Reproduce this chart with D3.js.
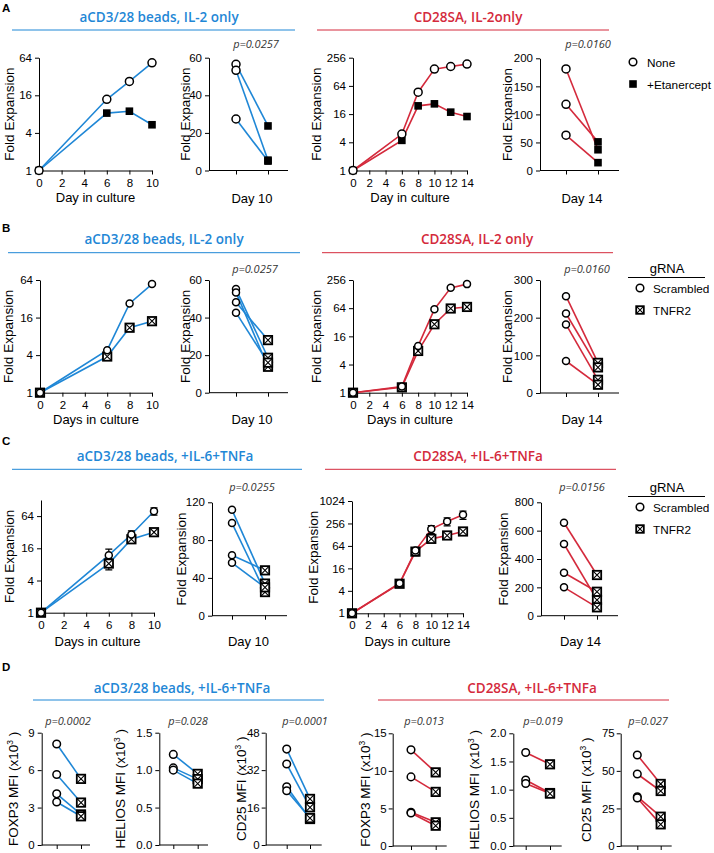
<!DOCTYPE html>
<html>
<head>
<meta charset="utf-8">
<script src="https://cdn.jsdelivr.net/npm/d3@7"></script>
<style>
body { margin: 0; background: #fff; }
text { font-family: "Liberation Sans", Arial, sans-serif; fill: #000; }
.axis text { font-size: 11.5px; font-family: "Liberation Sans", Arial, sans-serif; }
.ttl { font-family: "Open Sans", sans-serif; font-weight: 600; font-size: 13.5px; }
.pv { font-family: "Open Sans", sans-serif; font-style: italic; font-size: 11px; fill: #333; }
.lab { font-size: 13.5px; }
.xl { font-size: 13px; }
.let { font-size: 11.5px; font-weight: bold; }
</style>
</head>
<body>
<svg id="fig" width="714" height="853"></svg>
<script>
// days and ticks
var daysShort = [0, 6, 8, 10];
var daysLong = [0, 6, 8, 10, 12, 14];
var dayTicks10 = [0, 2, 4, 6, 8, 10];
var dayTicks14 = [0, 2, 4, 6, 8, 10, 12, 14];

// Panel A
var aBeadsNone = [1, 13.8, 26.7, 53];
var aBeadsEtan = [1, 8.3, 8.9, 5.4];
var aBeadsD10None = [56.5, 53.3, 27.4];
var aBeadsD10Etan = [23.7, 5.5, 5.0];
var aSaNone = [1, 6, 47, 146, 166, 187];
var aSaEtan = [1, 4.4, 24, 26.5, 17.6, 14.2];
var aSaD14None = [181, 118, 63];
var aSaD14Etan = [37, 51, 14];

// Panel B
var bBeadsScr = [1, 4.8, 27, 55];
var bBeadsTnf = [1, 3.8, 11, 14];
var bBeadsD10Scr = [55.2, 53.4, 48.1, 42.6];
var bBeadsD10Tnf = [18.6, 13.8, 28, 16];
var bSaScr = [1, 1.35, 10, 61, 174, 209];
var bSaTnf = [1, 1.3, 7.8, 29, 63, 68];
var bSaD14Scr = [257, 211, 182, 85];
var bSaD14Tnf = [80, 68, 35, 22];

// Panel C
var cBeadsScr = [1, 11.9, 29, 79];
var cBeadsScrErr = [0, 3.5, 5, 12];
var cBeadsTnf = [1, 8.3, 23.6, 32];
var cBeadsTnfErr = [0, 2, 3, 4];
var cBeadsD10Scr = [112, 98, 64, 56];
var cBeadsD10Tnf = [34, 25, 48, 30];
var cSaScr = [1, 6.4, 48, 181, 290, 439];
var cSaScrErr = [0, 1, 8, 45, 70, 110];
var cSaTnf = [1, 6.2, 45, 99, 122, 156];
var cSaTnfErr = [0, 1, 10, 20, 20, 30];
var cSaD14Scr = [656, 506, 303, 200];
var cSaD14Tnf = [287, 111, 169, 59];

// Panel D
var dBeadsFoxp3Scr = [8.1, 5.65, 4.1, 3.45];
var dBeadsFoxp3Tnf = [5.3, 3.4, 2.45, 2.3];
var dBeadsHeliosScr = [1.21, 1.03, 1.0];
var dBeadsHeliosTnf = [0.95, 0.88, 0.82];
var dBeadsCd25Scr = [41, 34.6, 24.9, 23.2];
var dBeadsCd25Tnf = [19.7, 16.1, 11.1, 11.5];
var dSaFoxp3Scr = [12.8, 9.2, 4.5, 4.4];
var dSaFoxp3Tnf = [9.8, 7.2, 3.15, 2.7];
var dSaHeliosScr = [1.66, 1.17, 1.11];
var dSaHeliosTnf = [1.45, 0.94, 0.93];
var dSaCd25Scr = [60.6, 47.9, 32.8, 32];
var dSaCd25Tnf = [41.3, 36.6, 19.5, 14.4];

var blue = "#1f87d6", red = "#d42a3c";
var svg = d3.select("#fig");

function drawMarker(g, kind, cx, cy, sz) {
  if (kind == "o") {
    g.append("circle").attr("cx", cx).attr("cy", cy).attr("r", sz)
      .attr("fill", "#fff").attr("stroke", "#000").attr("stroke-width", 1.5);
  } else if (kind == "s") {
    g.append("rect").attr("x", cx - sz).attr("y", cy - sz)
      .attr("width", sz * 2).attr("height", sz * 2).attr("fill", "#000");
  } else {
    var h = sz;
    g.append("rect").attr("x", cx - h).attr("y", cy - h)
      .attr("width", h * 2).attr("height", h * 2)
      .attr("fill", "#fff").attr("stroke", "#000").attr("stroke-width", 1.8);
    g.append("path")
      .attr("d", "M" + (cx - h) + "," + (cy - h) + "L" + (cx + h) + "," + (cy + h) +
        "M" + (cx + h) + "," + (cy - h) + "L" + (cx - h) + "," + (cy + h))
      .attr("stroke", "#000").attr("stroke-width", 1.1);
  }
}

function yLabel(lx, cy, txt, sup) {
  var t = svg.append("text").attr("class", "lab")
    .attr("transform", "translate(" + lx + "," + cy + ") rotate(-90)")
    .attr("text-anchor", "middle");
  if (sup) {
    t.append("tspan").text(txt);
    t.append("tspan").attr("dy", -5).style("font-size", "8.5px").text("3");
    t.append("tspan").attr("dy", 5).text(" )");
  } else {
    t.text(txt);
  }
}

function timeChart(o) {
  var x = d3.scaleLinear().domain([0, o.xMax]).range([o.x0, o.x1]);
  var y = d3.scaleLog().base(2).domain([1, o.yMax]).range([o.yBot, o.yTop]);
  var g = svg.append("g");
  g.append("g").attr("class", "axis")
    .attr("transform", "translate(0," + o.yBot + ")")
    .call(d3.axisBottom(x).tickValues(o.xTicks).tickSize(4).tickSizeOuter(0).tickPadding(4));
  g.append("g").attr("class", "axis")
    .attr("transform", "translate(" + o.x0 + ",0)")
    .call(d3.axisLeft(y).tickValues(o.yTicks).tickSize(4).tickSizeOuter(0).tickFormat(d3.format("d")));
  var line = d3.line().x(function (d, i) { return x(o.days[i]); }).y(function (d) { return y(d); });
  o.series.forEach(function (s) {
    g.append("path").datum(s.vals).attr("d", line)
      .attr("fill", "none").attr("stroke", o.color).attr("stroke-width", 1.6);
  });
  o.series.forEach(function (s) {
    if (!s.err) return;
    s.vals.forEach(function (v, i) {
      if (!s.err[i]) return;
      var cx = x(o.days[i]), hi = y(v + s.err[i]), lo = y(Math.max(v - s.err[i], 1));
      g.append("path")
        .attr("d", "M" + cx + "," + lo + "V" + hi + "M" + (cx - 3.5) + "," + hi + "H" + (cx + 3.5) +
          "M" + (cx - 3.5) + "," + lo + "H" + (cx + 3.5))
        .attr("stroke", "#000").attr("stroke-width", 1.2).attr("fill", "none");
    });
  });
  o.series.slice().reverse().forEach(function (s) {
    s.vals.forEach(function (v, i) { drawMarker(g, s.kind, x(o.days[i]), y(v), s.sz); });
  });
  yLabel(o.labX, (o.yTop + o.yBot) / 2, "Fold Expansion");
  svg.append("text").attr("class", "xl").attr("x", (o.x0 + o.x1) / 2).attr("y", o.xLabY)
    .attr("text-anchor", "middle").text(o.xLab);
}

function pairChart(o) {
  var y = d3.scaleLinear().domain([0, o.yMax]).range([o.yBot, o.yTop]);
  var x = d3.scalePoint().domain(["pre", "post"]).range([o.t0, o.t1]);
  var g = svg.append("g");
  var xa = g.append("g").attr("class", "axis")
    .attr("transform", "translate(0," + o.yBot + ")")
    .call(d3.axisBottom(x).tickSize(4).tickFormat(""));
  xa.select(".domain").remove();
  xa.append("line").attr("x1", o.x0).attr("x2", o.x1).attr("stroke", "#000");
  g.append("g").attr("class", "axis")
    .attr("transform", "translate(" + o.x0 + ",0)")
    .call(d3.axisLeft(y).tickValues(o.yTicks).tickSize(4).tickSizeOuter(0)
      .tickPadding(o.pad || 3).tickFormat(d3.format(o.fmt || "d")));
  o.before.forEach(function (b, i) {
    g.append("line").attr("x1", x("pre")).attr("y1", y(b))
      .attr("x2", x("post")).attr("y2", y(o.after[i]))
      .attr("stroke", o.color).attr("stroke-width", 1.6);
  });
  o.after.forEach(function (a) { drawMarker(g, o.kA, x("post"), y(a), o.szA); });
  o.before.forEach(function (b) { drawMarker(g, "o", x("pre"), y(b), o.szB); });
  svg.append("text").attr("class", "pv").attr("x", o.pX).attr("y", o.pY)
    .attr("text-anchor", "middle").text(o.p);
  if (o.ylab) yLabel(o.labX, (o.yTop + o.yBot) / 2, "Fold Expansion");
  if (o.dlab) yLabel(o.labX, (o.yTop + o.yBot) / 2, o.dlab, true);
  if (o.xLab) svg.append("text").attr("class", "xl").attr("x", (o.t0 + o.t1) / 2).attr("y", o.xLabY)
    .attr("text-anchor", "middle").text(o.xLab);
}

function header(letter, letY, items) {
  svg.append("text").attr("class", "let").attr("x", 2).attr("y", letY).text(letter);
  items.forEach(function (it) {
    svg.append("text").attr("class", "ttl").attr("x", it.cx).attr("y", it.ty)
      .attr("text-anchor", "middle").style("fill", it.color).text(it.text);
    svg.append("line").attr("x1", it.l0).attr("x2", it.l1).attr("y1", it.ly).attr("y2", it.ly)
      .attr("stroke", it.color).attr("stroke-width", 1);
  });
}

function legend(kind, top, names, withTitle) {
  var g = svg.append("g");
  if (withTitle) {
    g.append("text").attr("x", 667).attr("y", top).attr("text-anchor", "middle")
      .style("font-size", "13px").text("gRNA");
    g.append("line").attr("x1", 628).attr("x2", 705).attr("y1", top + 4.5).attr("y2", top + 4.5)
      .attr("stroke", "#000");
    top += 15;
  }
  names.forEach(function (n, i) {
    var cy = top + i * 22;
    drawMarker(g, i == 0 ? "o" : kind, withTitle ? 640 : 633, cy, 3.8);
    g.append("text").attr("x", withTitle ? 653 : 647).attr("y", cy + 4.5)
      .style("font-size", "11.8px").text(n);
  });
}

// ---------- A ----------
header("A", 12, [
  { text: "aCD3/28 beads, IL-2 only", cx: 159, ty: 22, l0: 12, l1: 295, ly: 30, color: blue },
  { text: "CD28SA, IL-2only", cx: 468, ty: 22, l0: 317, l1: 609, ly: 30, color: red }
]);
timeChart({ x0: 39, x1: 152, xMax: 10, xTicks: dayTicks10, yTop: 57.7, yBot: 170.5, yMax: 64,
  yTicks: [1, 4, 16, 64], days: daysShort, color: blue, labX: 14, xLab: "Day in culture", xLabY: 202,
  series: [{ vals: aBeadsNone, kind: "o", sz: 4 }, { vals: aBeadsEtan, kind: "s", sz: 3.8 }] });
pairChart({ x0: 209, x1: 288, t0: 236, t1: 268, yTop: 57.7, yBot: 170.5, yMax: 60, yTicks: [0, 20, 40, 60],
  before: aBeadsD10None, after: aBeadsD10Etan, kA: "s", szA: 3.8, szB: 4, color: blue,
  p: "p=0.0257", pX: 256, pY: 48, ylab: true, labX: 190, xLab: "Day 10", xLabY: 203 });
timeChart({ x0: 353, x1: 467, xMax: 14, xTicks: dayTicks14, yTop: 57.7, yBot: 170.5, yMax: 256,
  yTicks: [1, 4, 16, 64, 256], days: daysLong, color: red, labX: 321, xLab: "Day in culture", xLabY: 202,
  series: [{ vals: aSaNone, kind: "o", sz: 4 }, { vals: aSaEtan, kind: "s", sz: 3.8 }] });
pairChart({ x0: 540, x1: 619, t0: 566, t1: 598, yTop: 58.3, yBot: 170.5, yMax: 200, yTicks: [0, 50, 100, 150, 200],
  before: aSaD14None, after: aSaD14Etan, kA: "s", szA: 3.8, szB: 4, color: red,
  p: "p=0.0160", pX: 588, pY: 48, ylab: true, labX: 512, xLab: "Day 14", xLabY: 203 });
legend("s", 62, ["None", "+Etanercept"], false);

// ---------- B ----------
header("B", 232, [
  { text: "aCD3/28 beads, IL-2 only", cx: 164, ty: 244, l0: 8, l1: 300, ly: 252.7, color: blue },
  { text: "CD28SA, IL-2 only", cx: 477, ty: 244, l0: 322, l1: 613, ly: 252.7, color: red }
]);
timeChart({ x0: 40, x1: 152, xMax: 10, xTicks: dayTicks10, yTop: 280, yBot: 392.7, yMax: 64,
  yTicks: [1, 4, 16, 64], days: daysShort, color: blue, labX: 13, xLab: "Days in culture", xLabY: 424,
  series: [{ vals: bBeadsScr, kind: "o", sz: 3.5 }, { vals: bBeadsTnf, kind: "x", sz: 4.2 }] });
pairChart({ x0: 209, x1: 288, t0: 236, t1: 268, yTop: 280, yBot: 392.7, yMax: 60, yTicks: [0, 20, 40, 60],
  before: bBeadsD10Scr, after: bBeadsD10Tnf, kA: "x", szA: 4.2, szB: 3.5, color: blue,
  p: "p=0.0257", pX: 255, pY: 273, ylab: true, labX: 190, xLab: "Day 10", xLabY: 424 });
timeChart({ x0: 353, x1: 467, xMax: 14, xTicks: dayTicks14, yTop: 280, yBot: 392.7, yMax: 256,
  yTicks: [1, 4, 16, 64, 256], days: daysLong, color: red, labX: 321, xLab: "Days in culture", xLabY: 424,
  series: [{ vals: bSaScr, kind: "o", sz: 3.5 }, { vals: bSaTnf, kind: "x", sz: 4.2 }] });
pairChart({ x0: 540, x1: 619, t0: 566, t1: 598, yTop: 280, yBot: 393, yMax: 300, yTicks: [0, 100, 200, 300],
  before: bSaD14Scr, after: bSaD14Tnf, kA: "x", szA: 4.2, szB: 3.5, color: red,
  p: "p=0.0160", pX: 587, pY: 273, ylab: true, labX: 512, xLab: "Day 14", xLabY: 424 });
legend("x", 273, ["Scrambled", "TNFR2"], true);

// ---------- C ----------
header("C", 445, [
  { text: "aCD3/28 beads, +IL-6+TNFa", cx: 165, ty: 461, l0: 12, l1: 302, ly: 469.3, color: blue },
  { text: "CD28SA, +IL-6+TNFa", cx: 478, ty: 461, l0: 325, l1: 616, ly: 469.3, color: red }
]);
timeChart({ x0: 41, x1: 154, xMax: 10, xTicks: dayTicks10, yTop: 500, yBot: 612.7, yMax: 128,
  yTicks: [1, 4, 16, 64], days: daysShort, color: blue, labX: 14, xLab: "Days in culture", xLabY: 645.5,
  series: [{ vals: cBeadsScr, err: cBeadsScrErr, kind: "o", sz: 3.5 },
    { vals: cBeadsTnf, err: cBeadsTnfErr, kind: "x", sz: 4.2 }] });
pairChart({ x0: 212, x1: 287, t0: 232, t1: 265, yTop: 502.3, yBot: 615.7, yMax: 120, yTicks: [0, 40, 80, 120],
  before: cBeadsD10Scr, after: cBeadsD10Tnf, kA: "x", szA: 4.2, szB: 3.5, color: blue,
  p: "p=0.0255", pX: 252, pY: 491, ylab: true, labX: 186, xLab: "Day 10", xLabY: 646 });
timeChart({ x0: 352, x1: 463, xMax: 14, xTicks: dayTicks14, yTop: 501, yBot: 613.3, yMax: 1024,
  yTicks: [1, 4, 16, 64, 256, 1024], days: daysLong, color: red, labX: 318, xLab: "Days in culture", xLabY: 645.5,
  series: [{ vals: cSaScr, err: cSaScrErr, kind: "o", sz: 3.5 },
    { vals: cSaTnf, err: cSaTnfErr, kind: "x", sz: 4.2 }] });
pairChart({ x0: 541, x1: 618, t0: 564, t1: 597, yTop: 502.3, yBot: 615.7, yMax: 800, yTicks: [0, 200, 400, 600, 800],
  before: cSaD14Scr, after: cSaD14Tnf, kA: "x", szA: 4.2, szB: 3.5, color: red,
  p: "p=0.0156", pX: 582, pY: 491, ylab: true, labX: 508, xLab: "Day 14", xLabY: 646 });
legend("x", 492, ["Scrambled", "TNFR2"], true);

// ---------- D ----------
header("D", 671, [
  { text: "aCD3/28 beads, +IL-6+TNFa", cx: 182, ty: 693, l0: 33, l1: 324, ly: 700, color: blue },
  { text: "CD28SA, +IL-6+TNFa", cx: 532, ty: 693, l0: 378, l1: 669, ly: 700, color: red }
]);
var dTop = 732.7, dBot = 845;
pairChart({ x0: 41.7, x1: 90, t0: 56.7, t1: 81, yTop: dTop, yBot: dBot, yMax: 9, yTicks: [0, 3, 6, 9],
  before: dBeadsFoxp3Scr, after: dBeadsFoxp3Tnf, kA: "x", szA: 4.2, szB: 3.8, color: blue,
  p: "p=0.0002", pX: 68, pY: 725, dlab: "FOXP3 MFI (x10", labX: 18 });
pairChart({ x0: 159.3, x1: 208, t0: 173.3, t1: 197.7, yTop: dTop, yBot: dBot, yMax: 1.5, yTicks: [0, 0.5, 1, 1.5],
  fmt: ".1f", before: dBeadsHeliosScr, after: dBeadsHeliosTnf, kA: "x", szA: 4.2, szB: 3.8, color: blue,
  p: "p=0.028", pX: 188, pY: 725, dlab: "HELIOS MFI (x10", labX: 125 });
pairChart({ x0: 265.7, x1: 321.7, t0: 286.7, t1: 310, yTop: dTop, yBot: dBot, yMax: 48, yTicks: [0, 16, 32, 48],
  pad: 2, before: dBeadsCd25Scr, after: dBeadsCd25Tnf, kA: "x", szA: 4.2, szB: 3.8, color: blue,
  p: "p=0.0001", pX: 305, pY: 725, dlab: "CD25 MFI (x10", labX: 246 });
var dTop2 = 733.3, dBot2 = 846;
pairChart({ x0: 392.7, x1: 446.7, t0: 411, t1: 435.7, yTop: dTop2, yBot: dBot2, yMax: 15, yTicks: [0, 5, 10, 15],
  pad: 2, before: dSaFoxp3Scr, after: dSaFoxp3Tnf, kA: "x", szA: 4.2, szB: 3.8, color: red,
  p: "p=0.013", pX: 424, pY: 725, dlab: "FOXP3 MFI (x10", labX: 370 });
pairChart({ x0: 513.3, x1: 561.7, t0: 525.7, t1: 550, yTop: dTop2, yBot: dBot2, yMax: 2, yTicks: [0, 0.5, 1, 1.5, 2],
  fmt: ".1f", before: dSaHeliosScr, after: dSaHeliosTnf, kA: "x", szA: 4.2, szB: 3.8, color: red,
  p: "p=0.019", pX: 543, pY: 725, dlab: "HELIOS MFI (x10", labX: 479 });
pairChart({ x0: 620.7, x1: 671.7, t0: 637.3, t1: 660.7, yTop: dTop2, yBot: dBot2, yMax: 75, yTicks: [0, 25, 50, 75],
  pad: 2, before: dSaCd25Scr, after: dSaCd25Tnf, kA: "x", szA: 4.2, szB: 3.8, color: red,
  p: "p=0.027", pX: 648, pY: 725, dlab: "CD25 MFI (x10", labX: 591 });
</script>
</body>
</html>
